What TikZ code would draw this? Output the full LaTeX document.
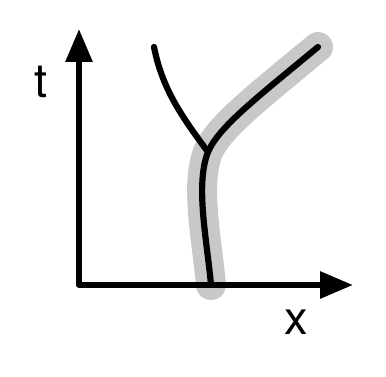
\documentclass[tikz,border=0pt]{standalone}
\usepackage{fontspec}
\setmainfont{TeX Gyre Heros}
\usetikzlibrary{arrows.meta}
\definecolor{bandGray}{RGB}{200, 200, 200}

\begin{document}
\begin{tikzpicture}[x=1pt, y=1pt, every node/.style={font=\fontsize{47}{47}\selectfont},
                    axis/.style={line width=6pt, line join=round, {Triangle[length=33pt, width=26pt]}-{Triangle[length=33pt, width=26pt]}},
                    track/.style={line width=6.2pt, line cap=round},
                    band/.style={line width=30pt, line cap=round, bandGray}]
                    \useasboundingbox (-79,-92) rectangle (307,285);
                    \coordinate (origin) at (0,0);
                    \coordinate (tTip) at (0,256);
                    \coordinate (xTip) at (274,0);
                    \coordinate (start) at (132,0);
                    \coordinate (fork) at (129,133);
                    \coordinate (rightEnd) at (239,238);
                    \coordinate (leftEnd) at (75,238);
                    % highlighted worldline
                    \draw[band] (start) .. controls (128,45) and (116,100) .. (fork)
                        .. controls (140,158) and (175,185) .. (rightEnd);
                    \draw[axis] (tTip) -- (origin) -- (xTip);
                    \draw[track] (start) .. controls (128,45) and (116,100) .. (fork)
                        .. controls (140,158) and (175,185) .. (rightEnd);
                    \draw[track] (leftEnd) .. controls (83,198) and (100,172) .. (fork);
                    \node[anchor=base] (tLabel) at (-38,187) {t};
                    \node[anchor=base] (xLabel) at (217,-50) {x};
                \end{tikzpicture}
\end{document}
